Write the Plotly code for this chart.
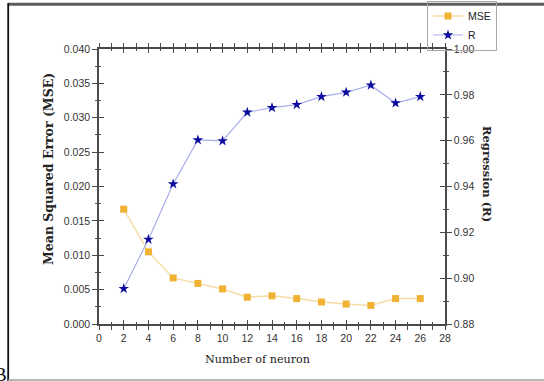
import plotly.graph_objects as go

neurons = [2, 4, 6, 8, 10, 12, 14, 16, 18, 20, 22, 24, 26]
mse = [0.0167, 0.0105, 0.0067, 0.0059, 0.0051, 0.0039, 0.0041, 0.0037, 0.0032, 0.0029, 0.0027, 0.0037, 0.0037]
r_vals = [0.8954, 0.9169, 0.9411, 0.9603, 0.9599, 0.9724, 0.9744, 0.9757, 0.9792, 0.9811, 0.9842, 0.9764, 0.9792]

W, H = 544, 381
L, R, T, B = 99, 99, 49, 57
PW, PH = W - L - R, H - T - B


def px(x):
    return (x - L) / PW


def py(y):
    return (H - B - y) / PH


AX = "#4a4a4a"
TICKFONT = dict(family="Liberation Sans, Arial, sans-serif", size=10.5, color="#333333")

fig = go.Figure()
fig.add_trace(go.Scatter(
    x=neurons, y=mse, name="MSE", mode="lines+markers",
    line=dict(color="#F6DDA6", width=1.5),
    marker=dict(symbol="square", size=7, color="#F0B233"),
    xaxis="x", yaxis="y"))
fig.add_trace(go.Scatter(
    x=neurons, y=r_vals, name="R", mode="lines+markers",
    line=dict(color="#A9AEEA", width=1.2),
    marker=dict(symbol="star", size=8, color="#0B0B9E"),
    xaxis="x", yaxis="y2"))
# empty helper traces so the inside-tick overlay axes are drawn
fig.add_trace(go.Scatter(x=[], y=[], showlegend=False, xaxis="x3", yaxis="y3", hoverinfo="skip"))
fig.add_trace(go.Scatter(x=[], y=[], showlegend=False, xaxis="x", yaxis="y4", hoverinfo="skip"))

common = dict(showline=True, linecolor=AX, linewidth=1.5, showgrid=False, zeroline=False,
              tickcolor=AX, tickwidth=1.2)

fig.update_layout(
    width=W, height=H,
    margin=dict(l=L, r=R, t=T, b=B, autoexpand=False),
    paper_bgcolor="white", plot_bgcolor="white",
    showlegend=True,
    legend=dict(x=px(497), y=py(0.5), xanchor="right", yanchor="top",
                bordercolor="#A8A8A8", borderwidth=1, bgcolor="rgba(255,255,255,0)",
                font=dict(family="Liberation Sans, Arial, sans-serif", size=10.5, color="#222"),
                tracegroupgap=0, itemwidth=30),
    xaxis=dict(range=[0, 28], dtick=2, tick0=0, ticks="outside", ticklen=4,
               mirror="allticks", tickfont=TICKFONT,
               minor=dict(dtick=1, ticks="outside", ticklen=2, tickcolor=AX, tickwidth=1),
               anchor="y", **common),
    xaxis3=dict(range=[0, 28], dtick=2, tick0=0, ticks="inside", ticklen=4,
                mirror="allticks", showticklabels=False, overlaying="x",
                minor=dict(dtick=1, ticks="inside", ticklen=2, tickcolor=AX, tickwidth=1),
                anchor="y", **common),
    yaxis=dict(range=[0, 0.04], dtick=0.005, tick0=0, tickformat=".3f", ticks="outside", ticklen=5,
               tickfont=TICKFONT,
               minor=dict(dtick=0.0025, ticks="outside", ticklen=2.5, tickcolor=AX, tickwidth=1),
               anchor="x", **common),
    yaxis3=dict(range=[0, 0.04], dtick=0.005, tick0=0, ticks="inside", ticklen=5,
                showticklabels=False, overlaying="y",
                minor=dict(dtick=0.0025, ticks="inside", ticklen=2.5, tickcolor=AX, tickwidth=1),
                anchor="x3", **common),
    yaxis2=dict(range=[0.88, 1.0], dtick=0.02, tick0=0.88, tickformat=".2f", ticks="outside", ticklen=5,
                side="right", overlaying="y", tickfont=TICKFONT,
                minor=dict(dtick=0.01, ticks="outside", ticklen=2.5, tickcolor=AX, tickwidth=1),
                anchor="x", **common),
    yaxis4=dict(range=[0.88, 1.0], dtick=0.02, tick0=0.88, ticks="inside", ticklen=5,
                side="right", overlaying="y", showticklabels=False,
                minor=dict(dtick=0.01, ticks="inside", ticklen=2.5, tickcolor=AX, tickwidth=1),
                anchor="x", **common),
)

SERIF = "DejaVu Serif, Liberation Serif, serif"
fig.add_annotation(text="<b>Mean Squared Error (MSE)</b>", x=px(48), y=py(169), xref="paper", yref="paper",
                   textangle=-90, showarrow=False, xanchor="center", yanchor="middle",
                   font=dict(family=SERIF, size=12.5, color="#222"))
fig.add_annotation(text="<b>Regression (R)</b>", x=px(487), y=py(174), xref="paper", yref="paper",
                   textangle=90, showarrow=False, xanchor="center", yanchor="middle",
                   font=dict(family=SERIF, size=11.5, color="#222"))
fig.add_annotation(text="Number of neuron", x=px(257.5), y=py(359), xref="paper", yref="paper",
                   showarrow=False, xanchor="center", yanchor="middle",
                   font=dict(family=SERIF, size=11.2, color="#222"))
fig.add_annotation(text="B", x=px(1), y=py(374), xref="paper", yref="paper",
                   showarrow=False, xanchor="center", yanchor="middle",
                   font=dict(family="Liberation Serif, serif", size=19, color="#111"))

# surrounding frame of the figure crop
fig.add_shape(type="line", xref="paper", yref="paper", x0=px(8), x1=px(546), y0=py(4.2), y1=py(4.2),
              line=dict(color="#5C5C5C", width=3))
fig.add_shape(type="line", xref="paper", yref="paper", x0=px(8.2), x1=px(8.2), y0=py(3), y1=py(381),
              line=dict(color="#111111", width=1.8))
fig.add_shape(type="line", xref="paper", yref="paper", x0=px(8), x1=px(546), y0=py(380), y1=py(380),
              line=dict(color="#A0A0A0", width=1.5))

fig.write_html("out.html", config={"displayModeBar": False},
               post_script="document.body.style.margin='0px';")
